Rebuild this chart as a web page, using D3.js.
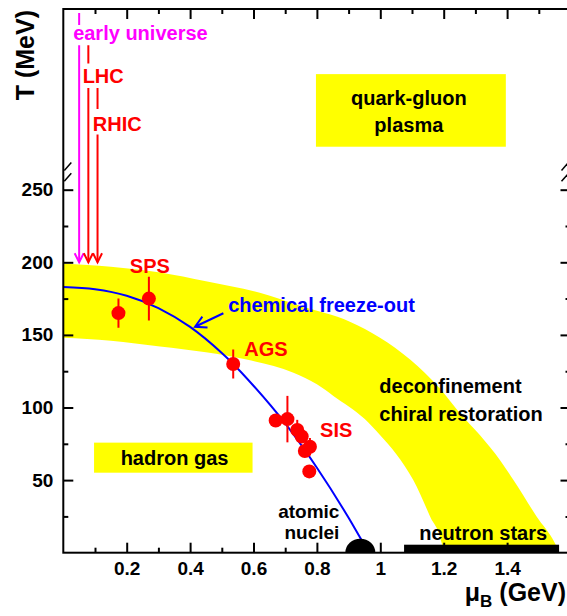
<!DOCTYPE html>
<html>
  <head>
    <title>QCD phase diagram</title>
    <script src="https://cdn.jsdelivr.net/npm/d3@7/dist/d3.min.js"></script>
    <style>
      body { margin: 0; background: #fff; }
      text { font-family: "Liberation Sans", Arial, sans-serif; font-weight: bold; }
    </style>
  </head>
  <body>
    <svg width="567" height="616" id="mainsvg"></svg>
    <script>
      // freeze-out points (muB in GeV, T in MeV)
      const pointMu = [0.174, 0.270, 0.536, 0.670, 0.707, 0.738, 0.752, 0.778, 0.762, 0.776];
      const pointT = [165, 175, 130, 91, 92, 84.5, 80, 73, 70, 56];
      const pointErrT = [10, 15, 10, 0, 16, 7, 0, 6, 0, 0];
      const pointErrMu = [0, 0, 0, 0.008, 0, 0.01, 0, 0.012, 0, 0];

      // chemical freeze-out curve
      const curveMu = [0, 0.1, 0.2, 0.3, 0.4, 0.5, 0.536, 0.6, 0.7, 0.8, 0.9, 0.94, 0.965];
      const curveT = [183, 181.5, 177, 168.5, 155.5, 137.5, 130, 115, 89, 58.5, 24, 9, 0];

      // yellow transition band
      const upperMu = [0, 0.15, 0.305, 0.45, 0.62, 0.747, 0.904, 0.999, 1.094, 1.188, 1.251, 1.314, 1.38, 1.42, 1.493, 1.551, 1.565];
      const upperT = [199, 197, 193, 187, 179, 170, 159, 148, 133, 113, 96, 81, 63, 50, 25, 6.5, 0];
      const lowerMu = [0, 0.15, 0.305, 0.45, 0.578, 0.726, 0.8, 0.852, 0.951, 0.999, 1.05, 1.104, 1.157, 1.194, 1.2];
      const lowerT = [148, 146, 142, 138, 133, 124, 116, 108, 92, 81, 68, 50, 25, 6.5, 0];

      // axis ticks
      const xMajor = [0.2, 0.4, 0.6, 0.8, 1.0, 1.2, 1.4];
      const xMajorLabels = ["0.2", "0.4", "0.6", "0.8", "1", "1.2", "1.4"];
      const xMinor = [0.1, 0.3, 0.5, 0.7, 0.9, 1.1, 1.3, 1.5];
      const yMajor = [50, 100, 150, 200, 250];
      const yMinor = [25, 75, 125, 175, 225];

      // beam arrows
      const beamNames = ["early universe", "LHC", "RHIC"];
      const beamMu = [0.05, 0.079, 0.108];

      const svg = d3.select("#mainsvg");
      const x = d3.scaleLinear().domain([0, 1.6]).range([63.3, 570.5]);
      const y = d3.scaleLinear().domain([0, 250]).range([552.7, 189.7]);
      const plotTop = 9;

      svg.append("rect").attr("width", 567).attr("height", 616).attr("fill", "#fff");

      svg.append("clipPath").attr("id", "plotclip")
        .append("rect")
        .attr("x", x(0)).attr("y", plotTop)
        .attr("width", x(1.6) - x(0)).attr("height", y(0) - plotTop);

      const g = svg.append("g").attr("clip-path", "url(#plotclip)");

      // band
      const upper = upperMu.map((m, i) => [x(m), y(upperT[i])]);
      const lower = lowerMu.map((m, i) => [x(m), y(lowerT[i])]).reverse();
      const line = d3.line().curve(d3.curveMonotoneX);
      const bandPath = line(upper) + "L" + line(lower).slice(1) + "Z";
      g.append("path").attr("d", bandPath).attr("fill", "#ffff00");

      // boxes
      g.append("rect")
        .attr("x", x(0.797)).attr("y", y(329.6))
        .attr("width", x(1.396) - x(0.797)).attr("height", y(279.6) - y(329.6))
        .attr("fill", "#ffff00");
      g.append("rect")
        .attr("x", x(0.097)).attr("y", y(75.8))
        .attr("width", x(0.597) - x(0.097)).attr("height", y(55.1) - y(75.8))
        .attr("fill", "#ffff00");

      // freeze-out curve
      const curveLine = d3.line()
        .x((d, i) => x(curveMu[i]))
        .y((d) => y(d))
        .curve(d3.curveMonotoneX);
      g.append("path")
        .attr("d", curveLine(curveT))
        .attr("fill", "none")
        .attr("stroke", "#0000ff")
        .attr("stroke-width", 2);

      // arrow from label to curve
      const arrowFrom = [x(0.505), y(164.9)];
      const arrowTo = [x(0.4155), y(155.6)];
      function openHead(tip, from, len, half) {
        const dx = tip[0] - from[0], dy = tip[1] - from[1];
        const l = Math.hypot(dx, dy);
        const ux = dx / l, uy = dy / l;
        const bx = tip[0] - ux * len, by = tip[1] - uy * len;
        return `M${bx - uy * half},${by + ux * half}L${tip[0]},${tip[1]}L${bx + uy * half},${by - ux * half}`;
      }
      g.append("path")
        .attr("d", `M${arrowFrom[0]},${arrowFrom[1]}L${arrowTo[0]},${arrowTo[1]}` + openHead(arrowTo, arrowFrom, 11, 6))
        .attr("fill", "none").attr("stroke", "#0000ff").attr("stroke-width", 2);

      // nuclei blob and neutron star bar
      g.append("ellipse")
        .attr("cx", x(0.937)).attr("cy", y(0))
        .attr("rx", 15).attr("ry", 14)
        .attr("fill", "#000");
      g.append("rect")
        .attr("x", x(1.075)).attr("y", y(0) - 8)
        .attr("width", x(1.564) - x(1.075)).attr("height", 8)
        .attr("fill", "#000");

      // beam arrows with gaps for labels
      const beamColors = ["#ff00ff", "#ff0000", "#ff0000"];
      const beamSegments = [
        [[371.7, 363.5], [349.5, 200]],
        [[349.5, 337], [320, 200]],
        [[320, 305.5], [288, 200]]
      ];
      beamSegments.forEach((segs, i) => {
        const xx = x(beamMu[i]);
        segs.forEach((s) => {
          g.append("line")
            .attr("x1", xx).attr("x2", xx)
            .attr("y1", y(s[0])).attr("y2", y(s[1]))
            .attr("stroke", beamColors[i]).attr("stroke-width", 2);
        });
        g.append("path")
          .attr("d", `M${xx - 4.5},${y(200) - 9}L${xx},${y(200)}L${xx + 4.5},${y(200) - 9}`)
          .attr("fill", "none").attr("stroke", beamColors[i]).attr("stroke-width", 2);
      });

      // data points
      pointMu.forEach((m, i) => {
        if (pointErrT[i] > 0) {
          g.append("line")
            .attr("x1", x(m)).attr("x2", x(m))
            .attr("y1", y(pointT[i] + pointErrT[i])).attr("y2", y(pointT[i] - pointErrT[i]))
            .attr("stroke", "#ff0000").attr("stroke-width", 2);
        }
        if (pointErrMu[i] > 0) {
          g.append("line")
            .attr("x1", x(m - pointErrMu[i])).attr("x2", x(m + pointErrMu[i]))
            .attr("y1", y(pointT[i])).attr("y2", y(pointT[i]))
            .attr("stroke", "#ff0000").attr("stroke-width", 2);
        }
      });
      g.selectAll(".pt")
        .data(pointMu)
        .join("circle")
        .attr("class", "pt")
        .attr("cx", (d) => x(d))
        .attr("cy", (d, i) => y(pointT[i]))
        .attr("r", 7)
        .attr("fill", "#ff0000");

      // texts
      const labels = [
        { t: beamNames[0], mu: 0.031, T: 353.1, c: "#ff00ff", a: "start" },
        { t: beamNames[1], mu: 0.061, T: 323.3, c: "#ff0000", a: "start" },
        { t: beamNames[2], mu: 0.093, T: 290.6, c: "#ff0000", a: "start" },
        { t: "quark-gluon", mu: 1.09, T: 308.3, c: "#000", a: "middle" },
        { t: "plasma", mu: 1.09, T: 290, c: "#000", a: "middle" },
        { t: "SPS", mu: 0.21, T: 192.4, c: "#ff0000", a: "start" },
        { t: "chemical freeze-out", mu: 0.52, T: 165.6, c: "#0000ff", a: "start" },
        { t: "AGS", mu: 0.571, T: 135.5, c: "#ff0000", a: "start" },
        { t: "deconfinement", mu: 0.997, T: 110.2, c: "#000", a: "start" },
        { t: "chiral restoration", mu: 0.997, T: 90.9, c: "#000", a: "start" },
        { t: "SIS", mu: 0.81, T: 79.9, c: "#ff0000", a: "start" },
        { t: "hadron gas", mu: 0.351, T: 60.4, c: "#000", a: "middle" },
        { t: "atomic", mu: 0.871, T: 24, c: "#000", a: "end", s: 19 },
        { t: "nuclei", mu: 0.871, T: 9.2, c: "#000", a: "end", s: 19 },
        { t: "neutron stars", mu: 1.123, T: 8.7, c: "#000", a: "start" }
      ];
      svg.selectAll(".lbl")
        .data(labels)
        .join("text")
        .attr("class", "lbl")
        .attr("x", (d) => x(d.mu))
        .attr("y", (d) => y(d.T))
        .attr("text-anchor", (d) => d.a)
        .attr("fill", (d) => d.c)
        .attr("font-size", (d) => (d.s || 20) + "px")
        .text((d) => d.t);

      // axes
      const axisStyle = (sel) => {
        sel.selectAll("line").attr("stroke", "#000").attr("stroke-width", 2);
        sel.selectAll("path").remove();
        sel.selectAll("text").attr("font-size", "19px").attr("fill", "#000")
          .attr("font-family", "Liberation Sans, Arial, sans-serif").attr("font-weight", "bold");
      };
      svg.append("g").attr("transform", `translate(0,${y(0)})`)
        .call(d3.axisBottom(x).tickValues(xMajor).tickSizeInner(-10).tickSizeOuter(0).tickPadding(9)
          .tickFormat((d, i) => xMajorLabels[i]))
        .call(axisStyle);
      svg.append("g").attr("transform", `translate(0,${y(0)})`)
        .call(d3.axisBottom(x).tickValues(xMinor).tickSizeInner(-5).tickSizeOuter(0).tickFormat(""))
        .call(axisStyle);
      svg.append("g").attr("transform", `translate(0,${plotTop})`)
        .call(d3.axisTop(x).tickValues(xMajor).tickSizeInner(-10).tickSizeOuter(0).tickFormat(""))
        .call(axisStyle);
      svg.append("g").attr("transform", `translate(0,${plotTop})`)
        .call(d3.axisTop(x).tickValues(xMinor).tickSizeInner(-5).tickSizeOuter(0).tickFormat(""))
        .call(axisStyle);
      svg.append("g").attr("transform", `translate(${x(0)},0)`)
        .call(d3.axisLeft(y).tickValues(yMajor).tickSizeInner(-10).tickSizeOuter(0).tickPadding(10))
        .call(axisStyle);
      svg.append("g").attr("transform", `translate(${x(0)},0)`)
        .call(d3.axisLeft(y).tickValues(yMinor).tickSizeInner(-5).tickSizeOuter(0).tickFormat(""))
        .call(axisStyle);
      svg.append("g").attr("transform", `translate(${x(1.6)},0)`)
        .call(d3.axisRight(y).tickValues(yMajor).tickSizeInner(-10).tickSizeOuter(0).tickFormat(""))
        .call(axisStyle);
      svg.append("g").attr("transform", `translate(${x(1.6)},0)`)
        .call(d3.axisRight(y).tickValues(yMinor).tickSizeInner(-5).tickSizeOuter(0).tickFormat(""))
        .call(axisStyle);

      // frame
      svg.append("rect")
        .attr("x", x(0)).attr("y", plotTop)
        .attr("width", x(1.6) - x(0)).attr("height", y(0) - plotTop)
        .attr("fill", "none").attr("stroke", "#000").attr("stroke-width", 2);

      // axis break marks
      [266, 258.5].forEach((tb) => {
        svg.append("line")
          .attr("x1", x(0) + 1).attr("y1", y(tb) + 4)
          .attr("x2", x(0) + 8).attr("y2", y(tb) - 4)
          .attr("stroke", "#000").attr("stroke-width", 1.5);
        svg.append("line")
          .attr("x1", x(1.6) - 9).attr("y1", y(tb) + 4)
          .attr("x2", x(1.6) - 2).attr("y2", y(tb) - 4)
          .attr("stroke", "#000").attr("stroke-width", 1.5);
      });

      // axis titles
      svg.append("text")
        .attr("transform", `translate(34,${plotTop + 1}) rotate(-90)`)
        .attr("text-anchor", "end")
        .attr("font-size", "25px")
        .text("T (MeV)");
      const xt = svg.append("text")
        .attr("x", 566).attr("y", 601)
        .attr("text-anchor", "end")
        .attr("font-size", "25px");
      xt.append("tspan").text("\u03bc");
      xt.append("tspan").attr("font-size", "17px").attr("dy", 6).text("B");
      xt.append("tspan").attr("dy", -6).text(" (GeV)");
    </script>
  </body>
</html>
